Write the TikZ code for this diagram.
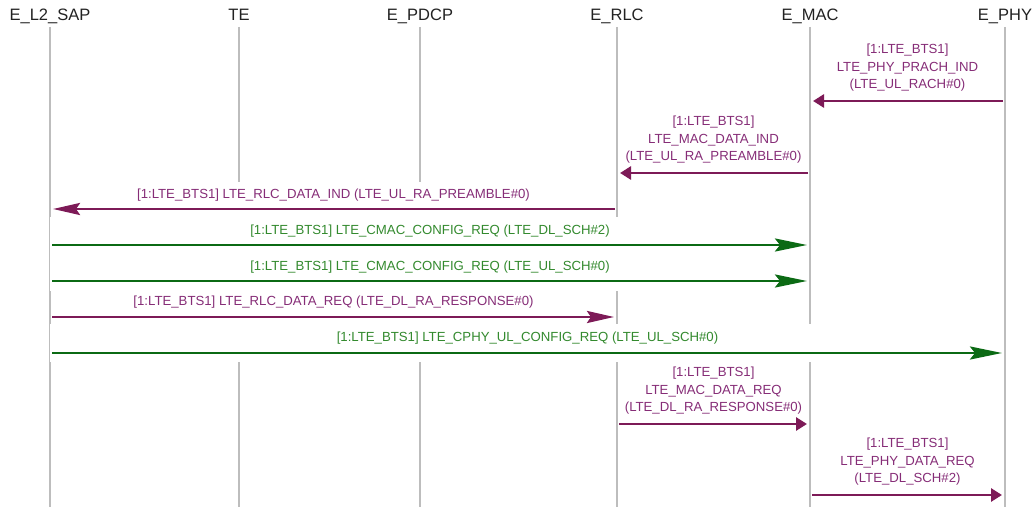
\documentclass[tikz,border=0pt]{standalone}
\usepackage{fontspec}
\setmainfont{Liberation Sans}
\usetikzlibrary{arrows.meta}

\definecolor{lifegray}{HTML}{BDBDBD}
\definecolor{headtext}{HTML}{222222}
\definecolor{sigline}{HTML}{7D1A57}
\definecolor{sigtext}{HTML}{862D77}
\definecolor{cfgline}{HTML}{0B6A14}
\definecolor{cfgtext}{HTML}{338A2E}

\begin{document}
\begin{tikzpicture}[x=1pt,y=-1pt,
  head/.style={text=headtext,font=\fontsize{16.5}{18}\selectfont,inner sep=0pt,anchor=base},
  life/.style={draw=lifegray,line width=1.5pt},
  cover/.style={fill=white},
  siglabel/.style={text=sigtext,font=\fontsize{13.2}{17.5}\selectfont,align=center,inner sep=0pt},
  cfglabel/.style={text=cfgtext,font=\fontsize{13.2}{17.5}\selectfont,align=center,inner sep=0pt},
  sigshort/.style={draw=sigline,line width=2.8pt,shorten >=3pt,shorten <=2pt,
    -{Triangle[length=11pt,width=13pt]}},
  siglong/.style={draw=sigline,line width=2.8pt,shorten >=3pt,shorten <=2pt,
    -{Stealth[length=27pt,width=12pt,inset=4pt]}},
  cfglong/.style={draw=cfgline,line width=2.6pt,shorten >=3pt,shorten <=2pt,
    -{Stealth[length=32pt,width=13pt,inset=5pt]}}
]
\useasboundingbox (0,0) rectangle (1035,510);

% instance headers
\node[head] (hsap)  at (50,21)   {E\_L2\_SAP};
\node[head] (hte)   at (239,21)  {TE};
\node[head] (hpdcp) at (420,21)  {E\_PDCP};
\node[head] (hrlc)  at (617,21)  {E\_RLC};
\node[head] (hmac)  at (810,21)  {E\_MAC};
\node[head] (hphy)  at (1005,21) {E\_PHY};

% lifelines
\foreach \n/\x in {sap/50,te/239,pdcp/420,rlc/617,mac/810,phy/1005}{
  \coordinate (\n top) at (\x,27);
  \coordinate (\n bot) at (\x,507);
  \draw[life] (\n top) -- (\n bot);
}

% message areas hide the lifelines they cross
\fill[cover] (51,182)   rectangle (616,220);
\fill[cover] (50.4,217) rectangle (809,256);
\fill[cover] (50.4,252) rectangle (809,291);
\fill[cover] (51,288)   rectangle (616,327);
\fill[cover] (50.4,324) rectangle (1004,362);

% LTE_PHY_PRACH_IND : E_PHY -> E_MAC
\coordinate (m1s) at (1005,101);
\coordinate (m1e) at (810,101);
\draw[sigshort] (m1s) -- (m1e);
\node[siglabel] (m1t) at (907.5,68) {[1:LTE\_BTS1]\\LTE\_PHY\_PRACH\_IND\\(LTE\_UL\_RACH\#0)};

% LTE_MAC_DATA_IND : E_MAC -> E_RLC
\coordinate (m2s) at (810,173);
\coordinate (m2e) at (617,173);
\draw[sigshort] (m2s) -- (m2e);
\node[siglabel] (m2t) at (713.5,140) {[1:LTE\_BTS1]\\LTE\_MAC\_DATA\_IND\\(LTE\_UL\_RA\_PREAMBLE\#0)};

% LTE_RLC_DATA_IND : E_RLC -> E_L2_SAP
\coordinate (m3s) at (617,209);
\coordinate (m3e) at (50,209);
\draw[siglong] (m3s) -- (m3e);
\node[siglabel] (m3t) at (333.5,195) {[1:LTE\_BTS1] LTE\_RLC\_DATA\_IND (LTE\_UL\_RA\_PREAMBLE\#0)};

% LTE_CMAC_CONFIG_REQ (DL) : E_L2_SAP -> E_MAC
\coordinate (m4s) at (50,245);
\coordinate (m4e) at (810,245);
\draw[cfglong] (m4s) -- (m4e);
\node[cfglabel] (m4t) at (430,231) {[1:LTE\_BTS1] LTE\_CMAC\_CONFIG\_REQ (LTE\_DL\_SCH\#2)};

% LTE_CMAC_CONFIG_REQ (UL) : E_L2_SAP -> E_MAC
\coordinate (m5s) at (50,281);
\coordinate (m5e) at (810,281);
\draw[cfglong] (m5s) -- (m5e);
\node[cfglabel] (m5t) at (430,267) {[1:LTE\_BTS1] LTE\_CMAC\_CONFIG\_REQ (LTE\_UL\_SCH\#0)};

% LTE_RLC_DATA_REQ : E_L2_SAP -> E_RLC
\coordinate (m6s) at (50,317);
\coordinate (m6e) at (617,317);
\draw[siglong] (m6s) -- (m6e);
\node[siglabel] (m6t) at (333.5,302) {[1:LTE\_BTS1] LTE\_RLC\_DATA\_REQ (LTE\_DL\_RA\_RESPONSE\#0)};

% LTE_CPHY_UL_CONFIG_REQ : E_L2_SAP -> E_PHY
\coordinate (m7s) at (50,353);
\coordinate (m7e) at (1005,353);
\draw[cfglong] (m7s) -- (m7e);
\node[cfglabel] (m7t) at (527.5,338) {[1:LTE\_BTS1] LTE\_CPHY\_UL\_CONFIG\_REQ (LTE\_UL\_SCH\#0)};

% LTE_MAC_DATA_REQ : E_RLC -> E_MAC
\coordinate (m8s) at (617,424);
\coordinate (m8e) at (810,424);
\draw[sigshort] (m8s) -- (m8e);
\node[siglabel] (m8t) at (713.5,391) {[1:LTE\_BTS1]\\LTE\_MAC\_DATA\_REQ\\(LTE\_DL\_RA\_RESPONSE\#0)};

% LTE_PHY_DATA_REQ : E_MAC -> E_PHY
\coordinate (m9s) at (810,495);
\coordinate (m9e) at (1005,495);
\draw[sigshort] (m9s) -- (m9e);
\node[siglabel] (m9t) at (907.5,462) {[1:LTE\_BTS1]\\LTE\_PHY\_DATA\_REQ\\(LTE\_DL\_SCH\#2)};
\end{tikzpicture}
\end{document}
